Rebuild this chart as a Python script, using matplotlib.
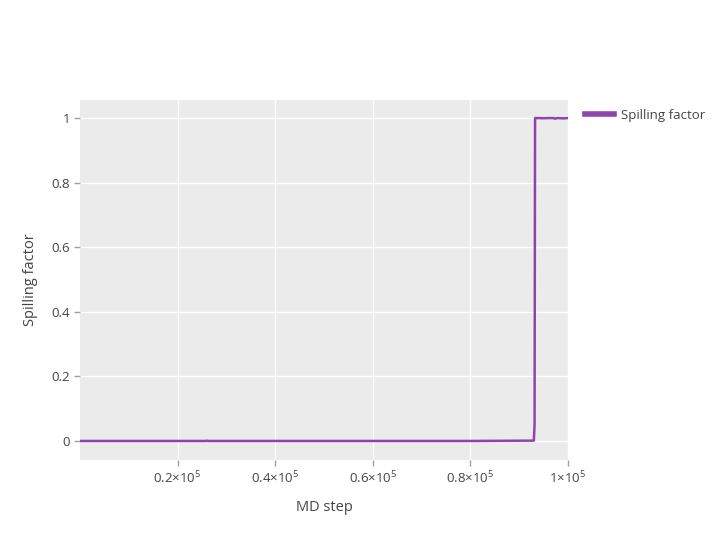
import numpy as np
import matplotlib.pyplot as plt

# MD step vs spilling factor
md_step = [0, 10000, 20000, 25800, 26000, 26200, 40000, 60000, 80000, 93000,
           93150, 93250, 94000, 95000, 96000, 97000, 97400, 97700, 98000, 99000, 100000]
spilling = [0.0, 0.0, 0.0, 0.0, 0.001, 0.0, 0.0, 0.0, 0.0, 0.001,
            0.05, 1.0, 1.0, 0.9995, 1.0, 1.0, 0.998, 1.0, 1.0, 0.999, 1.0]

x_ticks = [20000, 40000, 60000, 80000, 100000]
x_tick_labels = ['0.2×10$^{5}$', '0.4×10$^{5}$', '0.6×10$^{5}$', '0.8×10$^{5}$', '1×10$^{5}$']
y_ticks = [0, 0.2, 0.4, 0.6, 0.8, 1]
y_tick_labels = ['0', '0.2', '0.4', '0.6', '0.8', '1']

plt.rcParams['font.family'] = ['Open Sans', 'DejaVu Sans']
plt.rcParams['mathtext.fontset'] = 'custom'
plt.rcParams['mathtext.rm'] = 'Open Sans'

fig = plt.figure(figsize=(7.2, 5.4), dpi=100)
ax = fig.add_axes([80 / 720, 80 / 540, 488 / 720, 360 / 540])
ax.set_facecolor('#EBEBEB')

ax.plot(md_step, spilling, color='#8E44AD', lw=1.8, label='Spilling factor')

ax.set_xlim(0, 100000)
ax.set_ylim(-0.059, 1.056)
ax.set_xticks(x_ticks)
ax.set_xticklabels(x_tick_labels)
ax.set_yticks(y_ticks)
ax.set_yticklabels(y_tick_labels)
ax.grid(color='white', lw=1)
ax.set_axisbelow(True)
for s in ax.spines.values():
    s.set_visible(False)
ax.tick_params(length=4, width=1, color='#A0A0A0', labelcolor='#444444', labelsize=9.5, pad=3)

ax.set_xlabel('MD step', color='#444444', fontsize=10.5, labelpad=10)
ax.set_ylabel('Spilling factor', color='#444444', fontsize=10.5, labelpad=10)

leg = ax.legend(loc='upper left', bbox_to_anchor=(1.01, 1.008), frameon=False,
                fontsize=9.5, handlelength=2.2, handletextpad=0.55)
for t in leg.get_texts():
    t.set_color('#444444')
for l in leg.get_lines():
    l.set_linewidth(4)

fig.savefig('out.png', dpi=100)
